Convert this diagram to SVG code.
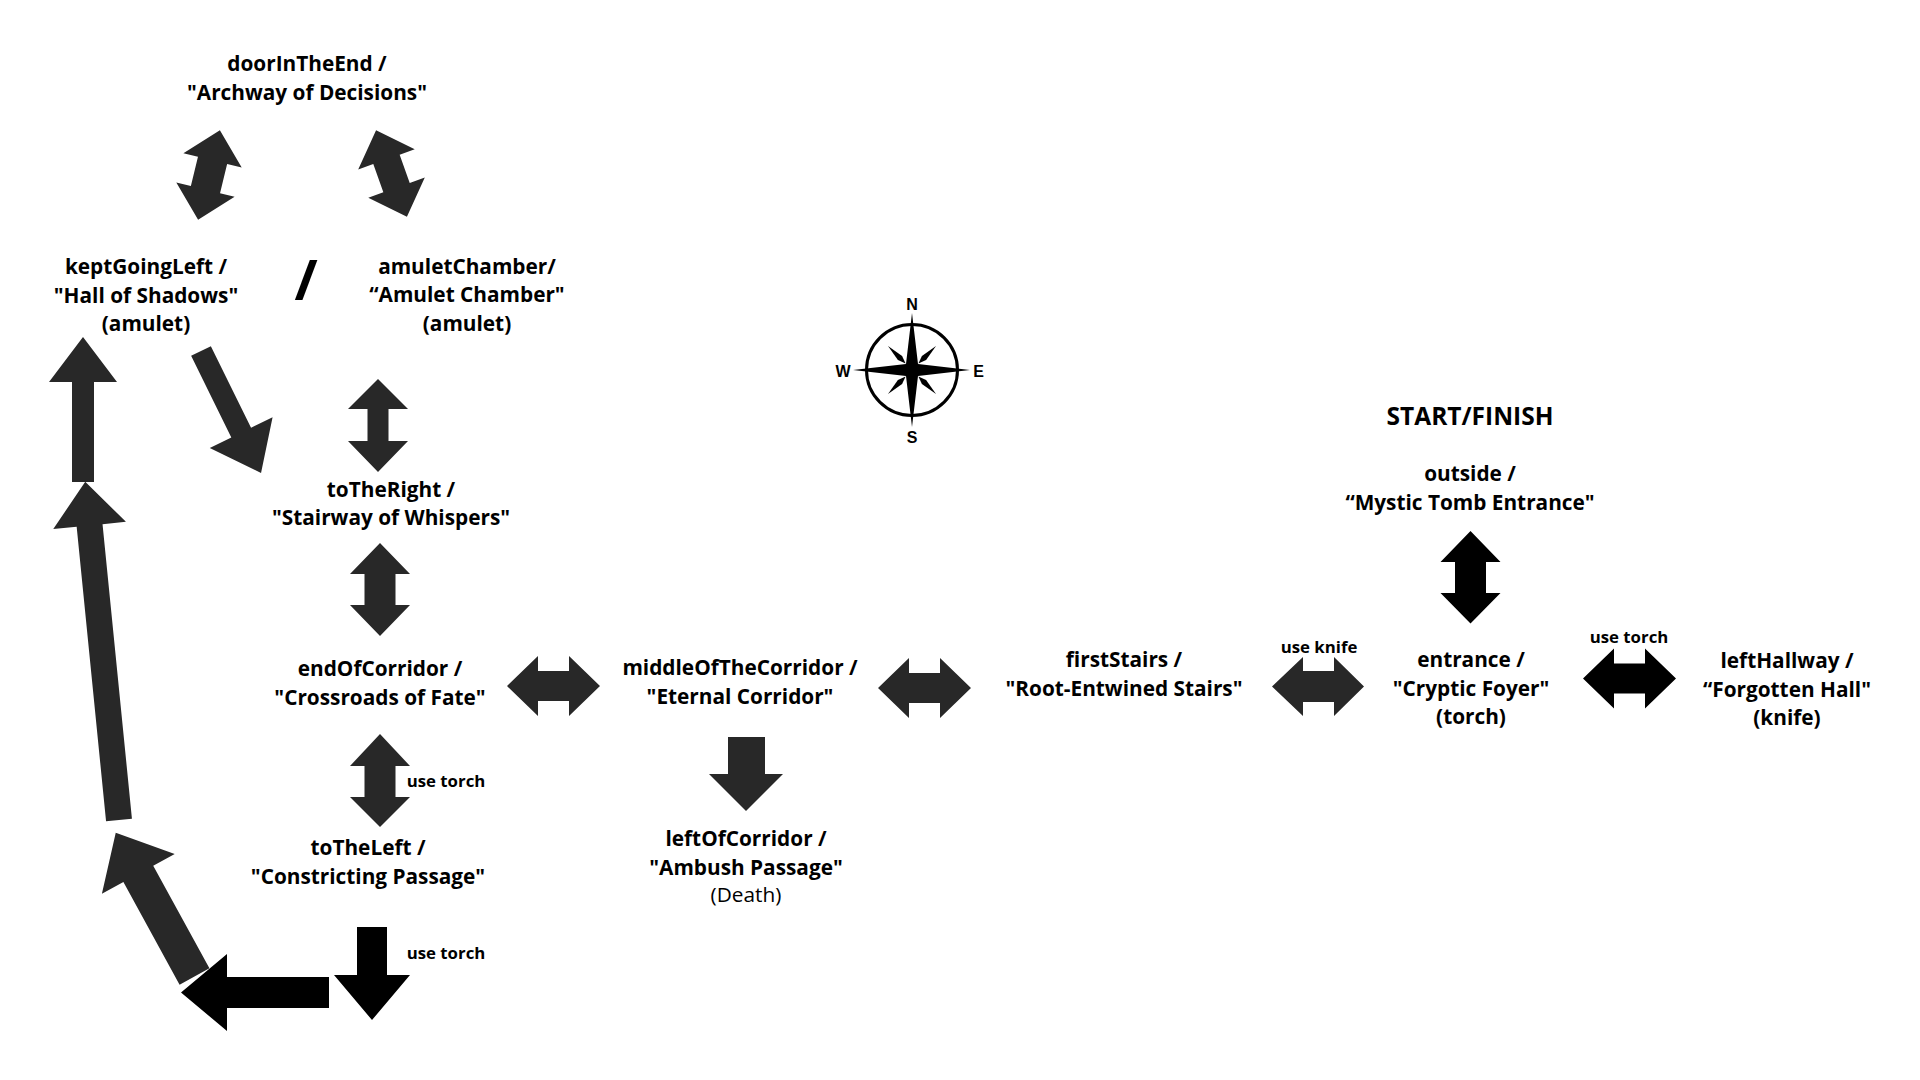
<svg xmlns="http://www.w3.org/2000/svg" width="1920" height="1080" viewBox="0 0 1920 1080">
<style>
.t{font-family:"Open Sans","Liberation Sans",sans-serif;font-weight:700;font-size:20.8px;fill:#000;text-anchor:middle}
.r{font-weight:400}
.s{font-size:16.8px}
.big{font-size:24.5px}
.c{font-family:"Liberation Sans",Arial,sans-serif;font-weight:700;font-size:16px;fill:#000;text-anchor:middle}
.g{fill:#282828}
.k{fill:#000}
</style>
<rect width="1920" height="1080" fill="#fff"/>
<g id="connectors">
  <!-- doorInTheEnd <-> keptGoingLeft -->
  <polygon class="g" transform="translate(209,175) rotate(-76.3)" points="-46,0 -15,-30 -15,-15 15,-15 15,-30 46,0 15,30 15,15 -15,15 -15,30"/>
  <!-- doorInTheEnd <-> amuletChamber -->
  <polygon class="g" transform="translate(391.5,173.5) rotate(70.4)" points="-46,0 -15,-30 -15,-14 15,-14 15,-30 46,0 15,30 15,14 -15,14 -15,30"/>
  <!-- keptGoingLeft -> toTheRight -->
  <polygon class="g" transform="translate(201,351) rotate(63.8)" points="0,-11 91,-11 91,-35 136,0 91,35 91,11 0,11"/>
  <!-- amuletChamber <-> toTheRight -->
  <polygon class="g" points="378,379 408,409 388.5,409 388.5,441 408,441 378,472 348,441 367.5,441 367.5,409 348,409"/>
  <!-- up arrow to keptGoingLeft -->
  <polygon class="g" points="72,482 72,382 49,382 83,337 117,382 94,382 94,482"/>
  <!-- long arrow -->
  <polygon class="g" transform="translate(119,820) rotate(-95.7)" points="0,-13 296,-13 296,-36.5 340,0 296,36.5 296,13 0,13"/>
  <!-- diagonal arrow -->
  <polygon class="g" transform="translate(194.5,976.5) rotate(-118.7)" points="0,-17 117,-17 117,-41.5 164,0 117,41.5 117,17 0,17"/>
  <!-- toTheRight <-> endOfCorridor -->
  <polygon class="g" points="380,543 410,574 395.5,574 395.5,605 410,605 380,636 350,605 364.5,605 364.5,574 350,574"/>
  <!-- endOfCorridor <-> toTheLeft (use torch) -->
  <polygon class="g" points="380,734 410,766 395.5,766 395.5,797 410,797 380,827 350,797 364.5,797 364.5,766 350,766"/>
  <!-- toTheLeft down (use torch) -->
  <polygon class="k" points="357,927 387,927 387,975 410,975 372,1020 334,975 357,975"/>
  <!-- left arrow -->
  <polygon class="k" points="329,977 227,977 227,954 181,992.5 227,1031 227,1008 329,1008"/>
  <!-- endOfCorridor <-> middleOfTheCorridor -->
  <polygon class="g" points="507,686 538,656 538,671 569,671 569,656 600,686 569,716 569,701 538,701 538,716"/>
  <!-- middleOfTheCorridor <-> firstStairs -->
  <polygon class="g" points="878,688 909,658 909,673 940,673 940,658 971,688 940,718 940,703 909,703 909,718"/>
  <!-- middleOfTheCorridor -> leftOfCorridor -->
  <polygon class="g" points="728,737 765,737 765,774 783,774 746,811 709,774 728,774"/>
  <!-- firstStairs <-> entrance (use knife) -->
  <polygon class="g" points="1272,686.5 1303,657 1303,671 1334,671 1334,657 1364,686.5 1334,716 1334,702 1303,702 1303,716"/>
  <!-- entrance <-> leftHallway (use torch) -->
  <polygon class="k" points="1583,678.5 1614,648.5 1614,663.5 1645,663.5 1645,648.5 1676,678.5 1645,708.5 1645,693.5 1614,693.5 1614,708.5"/>
  <!-- outside <-> entrance -->
  <polygon class="k" points="1470.5,531 1500.5,562 1486,562 1486,593 1500.5,593 1470.5,623.5 1440.5,593 1455,593 1455,562 1440.5,562"/>
  <text class="t s" x="446" y="787">use torch</text>
  <text class="t s" x="446" y="959">use torch</text>
  <text class="t s" x="1319" y="652.5">use knife</text>
  <text class="t s" x="1629" y="643">use torch</text>
</g>
<g id="doorInTheEnd"><text class="t" x="307" y="71">doorInTheEnd /</text><text class="t" x="307" y="99.5">"Archway of Decisions"</text></g>
<g id="keptGoingLeft"><text class="t" x="146" y="274">keptGoingLeft /</text><text class="t" x="146" y="302.5">"Hall of Shadows"</text><text class="t" x="146" y="331">(amulet)</text></g>
<g id="orSlash"><text class="t" x="306" y="300" style="font-size:56px">/</text></g>
<g id="amuletChamber"><text class="t" x="467" y="273.5">amuletChamber/</text><text class="t" x="467" y="302">“Amulet Chamber"</text><text class="t" x="467" y="330.5">(amulet)</text></g>
<g id="toTheRight"><text class="t" x="391" y="496.5">toTheRight /</text><text class="t" x="391" y="525">"Stairway of Whispers"</text></g>
<g id="endOfCorridor"><text class="t" x="380" y="676">endOfCorridor /</text><text class="t" x="380" y="705">"Crossroads of Fate"</text></g>
<g id="toTheLeft"><text class="t" x="368" y="855">toTheLeft /</text><text class="t" x="368" y="884">"Constricting Passage"</text></g>
<g id="middleOfTheCorridor"><text class="t" x="740" y="675">middleOfTheCorridor /</text><text class="t" x="740" y="703.5">"Eternal Corridor"</text></g>
<g id="leftOfCorridor"><text class="t" x="746" y="846">leftOfCorridor /</text><text class="t" x="746" y="874.5">"Ambush Passage"</text><text class="t r" x="746" y="902">(Death)</text></g>
<g id="firstStairs"><text class="t" x="1124" y="667">firstStairs /</text><text class="t" x="1124" y="696">"Root-Entwined Stairs"</text></g>
<g id="entrance"><text class="t" x="1471" y="667">entrance /</text><text class="t" x="1471" y="695.5">"Cryptic Foyer"</text><text class="t" x="1471" y="724">(torch)</text></g>
<g id="leftHallway"><text class="t" x="1787" y="668">leftHallway /</text><text class="t" x="1787" y="696.5">“Forgotten Hall"</text><text class="t" x="1787" y="725">(knife)</text></g>
<g id="outside"><text class="t big" x="1470" y="425">START/FINISH</text><text class="t" x="1470" y="481">outside /</text><text class="t" x="1470" y="509.5">“Mystic Tomb Entrance"</text></g>
<g id="compass">
  <circle cx="912" cy="370" r="45.5" fill="none" stroke="#000" stroke-width="3"/>
  <g fill="#000">
    <polygon points="888,346 902.1,355.9 905.6,363.6 897.9,360.1"/>
    <polygon points="936,346 921.9,355.9 918.4,363.6 926.1,360.1"/>
    <polygon points="888,394 902.1,384.1 905.6,376.4 897.9,379.9"/>
    <polygon points="936,394 921.9,384.1 918.4,376.4 926.1,379.9"/>
    <path d="M912,313 L918,364 L970,370 L918,376 L912,427 L906,376 L853,370 L906,364 Z"/>
  </g>
  <text class="c" x="912" y="310">N</text>
  <text class="c" x="912" y="443">S</text>
  <text class="c" x="843" y="377">W</text>
  <text class="c" x="978.5" y="377">E</text>
</g>
</svg>
